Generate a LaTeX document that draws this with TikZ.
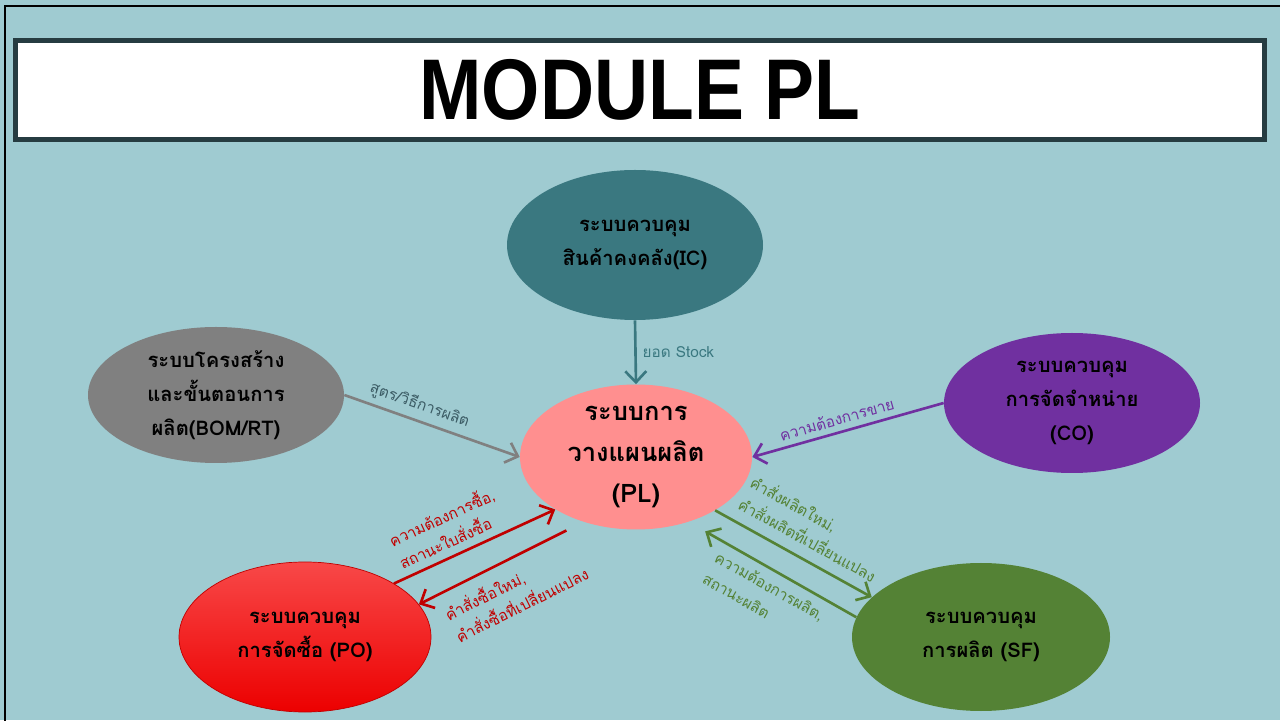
\documentclass[tikz,border=0pt]{standalone}
\usepackage{fontspec}
\setmainfont{Loma}[Script=Thai]
\newfontfamily\titlefont{Liberation Sans}
\usetikzlibrary{shapes.geometric,arrows.meta}

\definecolor{bgblue}{HTML}{9FCBD1}
\definecolor{frame}{HTML}{263C41}
\definecolor{icteal}{HTML}{3A7880}
\definecolor{bomgray}{HTML}{808080}
\definecolor{bomtext}{HTML}{3B5B64}
\definecolor{plpink}{HTML}{FF8F8F}
\definecolor{copurple}{HTML}{7030A0}
\definecolor{potop}{HTML}{F84848}
\definecolor{pobot}{HTML}{EC0000}
\definecolor{podark}{HTML}{C00000}
\definecolor{sfgreen}{HTML}{548235}

\begin{document}
\begin{tikzpicture}[>={Straight Barb[length=2.2mm,width=4.2mm]},
  sys/.style={ellipse, inner sep=0pt, inner ysep=-8pt, align=center,
    font=\bfseries\fontsize{11.5}{19.5}\selectfont},
  lbl/.style={sloped, align=left, font=\fontsize{8.7}{14}\selectfont}]
\useasboundingbox (0,0) rectangle (25.6,14.4);
\fill[bgblue] (0,0) rectangle (25.6,14.4);
\draw[black, line width=1.2pt] (0.1,-1) -- (0.1,14.28) -- (26,14.28);

% title
\node[draw=frame, line width=2.8pt, fill=white, minimum width=24.98cm, minimum height=1.98cm, inner sep=0pt]
  (title) at (12.8,12.6) {\titlefont\bfseries\fontsize{49}{49}\selectfont\scalebox{0.87}[1]{MODULE PL}};

% systems
\node[sys, fill=icteal, minimum width=5.12cm, minimum height=3cm] (ic) at (12.70,9.50) {ระบบควบคุม\\สินค้าคงคลัง(IC)};
\node[sys, fill=bomgray, minimum width=5.12cm, minimum height=2.72cm] (bom) at (4.32,6.50) {ระบบโครงสร้าง\\และขั้นตอนการ\\ผลิต(BOM/RT)};
\node[sys, fill=plpink, minimum width=4.64cm, minimum height=2.9cm, font=\bfseries\fontsize{14.5}{23.5}\selectfont] (pl) at (12.72,5.26) {ระบบการ\\วางแผนผลิต\\(PL)};
\node[sys, fill=copurple, minimum width=5.12cm, minimum height=2.8cm] (co) at (21.44,6.34) {ระบบควบคุม\\การจัดจำหน่าย\\(CO)};
\node[sys, top color=potop, bottom color=pobot, draw=podark, thin, minimum width=5.04cm, minimum height=3cm] (po) at (6.10,1.66) {ระบบควบคุม\\การจัดซื้อ (PO)};
\node[sys, fill=sfgreen, minimum width=5.16cm, minimum height=2.96cm] (sf) at (19.62,1.66) {ระบบควบคุม\\การผลิต (SF)};

% flows
\path[draw=icteal, line width=1.5pt, ->] (ic.south) -- node[right, text=icteal, font=\fontsize{8.7}{14}\selectfont] {ยอด Stock} (pl.north);
\path[draw=bomgray, line width=1.5pt, ->] (bom.east) -- node[lbl, above, pos=0.4, text=bomtext] {สูตร/วิธีการผลิต} (pl.west);
\path[draw=copurple, line width=1.5pt, ->] (co.west) -- node[lbl, above, pos=0.54, text=copurple] {ความต้องการขาย} (pl.east);

\path[draw=podark, line width=1.5pt, ->] (po.31) -- node[lbl, above=1pt, pos=0.4, text=podark] {ความต้องการซื้อ,\\สถานะใบสั่งซื้อ} (pl.213);
\path[draw=podark, line width=1.5pt, ->, shorten <=0.38cm] (pl.231) -- node[lbl, below=3pt, pos=0.5, text=podark] {คำสั่งซื้อใหม่,\\คำสั่งซื้อที่เปลี่ยนแปลง} (po.16);

\path[draw=sfgreen, line width=1.5pt, ->] (pl.326) -- node[lbl, above=3pt, pos=0.53, text=sfgreen] {คำสั่งผลิตใหม่,\\คำสั่งผลิตที่เปลี่ยนแปลง} (sf.160);
\path[draw=sfgreen, line width=1.5pt, ->, shorten >=0.38cm] (sf.171) -- node[lbl, below=1pt, pos=0.47, text=sfgreen] {ความต้องการผลิต,\\สถานะผลิต} (pl.309);
\end{tikzpicture}
\end{document}
